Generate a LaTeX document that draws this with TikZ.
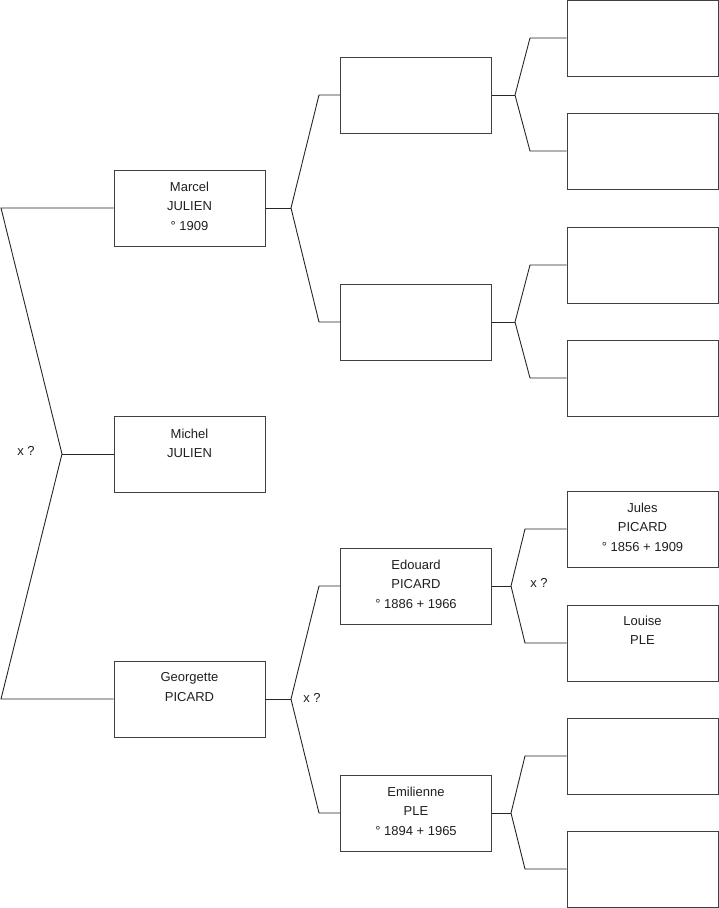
\documentclass[tikz,border=0pt]{standalone}
\usepackage{fontspec}
\setmainfont{Liberation Sans}
\begin{document}
\begin{tikzpicture}[x=1pt,y=-1pt,
  box/.style={draw=black!75,line width=0.9pt,minimum width=151pt,minimum height=76pt,inner sep=0pt},
  txt/.style={anchor=north,align=center,inner sep=0pt,font=\fontsize{13}{19.6}\selectfont,text=black!88},
  lbl/.style={inner sep=0pt,font=\fontsize{13}{15}\selectfont,text=black!88},
  con/.style={draw=black!85,line width=0.9pt}]
\useasboundingbox (0,0) rectangle (719,908);
% level 1
\node[box] (a1) at (189.5,208) {};
\node[box] (a2) at (189.5,454) {};
\node[box] (a3) at (189.5,699) {};
% level 2
\node[box] (b1) at (416,95) {};
\node[box] (b2) at (416,322) {};
\node[box] (b3) at (416,586) {};
\node[box] (b4) at (416,813) {};
% level 3
\node[box] (c1) at (642.5,38) {};
\node[box] (c2) at (642.5,151) {};
\node[box] (c3) at (642.5,265) {};
\node[box] (c4) at (642.5,378) {};
\node[box] (c5) at (642.5,529) {};
\node[box] (c6) at (642.5,643) {};
\node[box] (c7) at (642.5,756) {};
\node[box] (c8) at (642.5,869) {};
% texts
\node[txt] (ta1) at ([yshift=-12pt]a1.north) {Marcel\\JULIEN\\° 1909};
\node[txt] (ta2) at ([yshift=-13pt]a2.north) {Michel\\JULIEN};
\node[txt] (ta3) at ([yshift=-12pt]a3.north) {Georgette\\PICARD};
\node[txt] (tb3) at ([yshift=-12pt]b3.north) {Edouard\\PICARD\\° 1886 + 1966};
\node[txt] (tb4) at ([yshift=-12pt]b4.north) {Emilienne\\PLE\\° 1894 + 1965};
\node[txt] (tc5) at ([yshift=-12pt]c5.north) {Jules\\PICARD\\° 1856 + 1909};
\node[txt] (tc6) at ([yshift=-11pt]c6.north) {Louise\\PLE};
% fork 0
\coordinate (j0) at (62,454);
\coordinate (k0t) at (1,208);
\coordinate (k0b) at (1,699);
\draw[con] (a1.west) -- (k0t) -- (j0) -- (k0b) -- (a3.west);
\draw[con] (j0) -- (a2.west);
% fork a1
\coordinate (j1) at (291,208);
\coordinate (k1t) at (319,95);
\coordinate (k1b) at (319,322);
\draw[con] (a1.east) -- (j1);
\draw[con] (b1.west) -- (k1t) -- (j1) -- (k1b) -- (b2.west);
% fork a3
\coordinate (j3) at (291,699);
\coordinate (k3t) at (319,586);
\coordinate (k3b) at (319,813);
\draw[con] (a3.east) -- (j3);
\draw[con] (b3.west) -- (k3t) -- (j3) -- (k3b) -- (b4.west);
% fork b1
\coordinate (jb1) at (515,95);
\coordinate (kb1t) at (530,38);
\coordinate (kb1b) at (530,151);
\draw[con] (b1.east) -- (jb1);
\draw[con] (c1.west) -- (kb1t) -- (jb1) -- (kb1b) -- (c2.west);
% fork b2
\coordinate (jb2) at (515,322);
\coordinate (kb2t) at (530,265);
\coordinate (kb2b) at (530,378);
\draw[con] (b2.east) -- (jb2);
\draw[con] (c3.west) -- (kb2t) -- (jb2) -- (kb2b) -- (c4.west);
% fork b3
\coordinate (jb3) at (511,586);
\coordinate (kb3t) at (525,529);
\coordinate (kb3b) at (525,643);
\draw[con] (b3.east) -- (jb3);
\draw[con] (c5.west) -- (kb3t) -- (jb3) -- (kb3b) -- (c6.west);
% fork b4
\coordinate (jb4) at (511,813);
\coordinate (kb4t) at (525,756);
\coordinate (kb4b) at (525,869);
\draw[con] (b4.east) -- (jb4);
\draw[con] (c7.west) -- (kb4t) -- (jb4) -- (kb4b) -- (c8.west);
% marriage labels
\node[lbl] (x0) at (26,451) {x ?};
\node[lbl] (x3) at (312,698) {x ?};
\node[lbl] (xb3) at (539,583) {x ?};
\end{tikzpicture}
\end{document}
